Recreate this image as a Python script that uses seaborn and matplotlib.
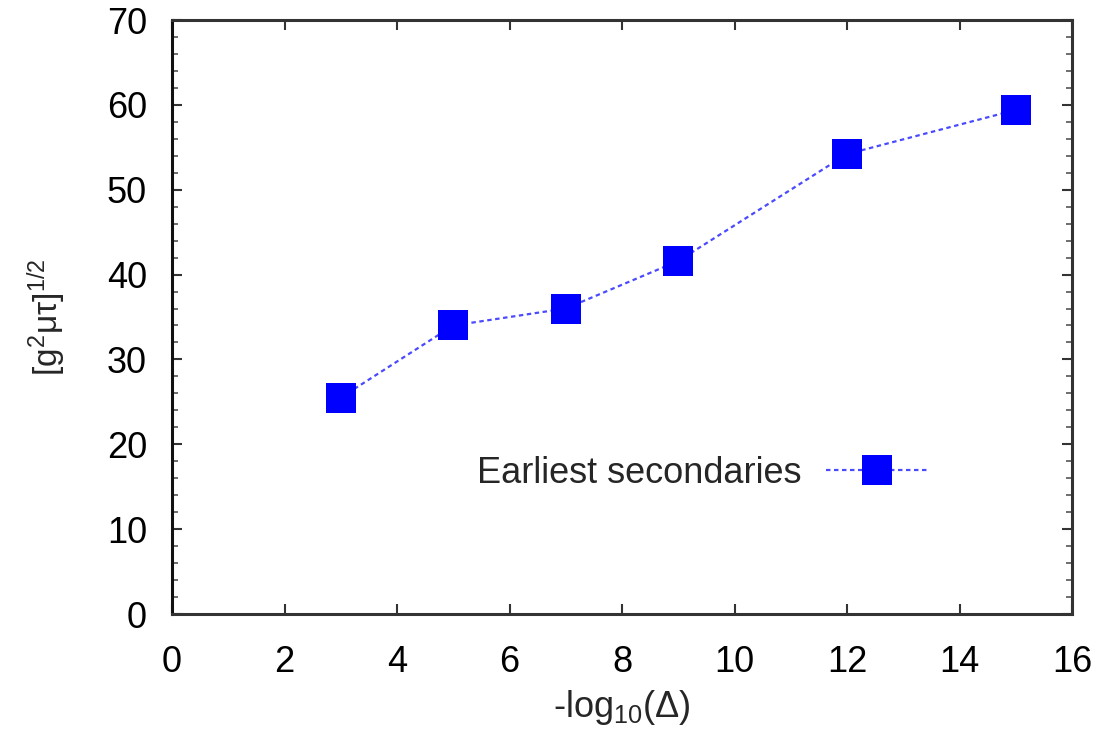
import matplotlib
matplotlib.use("Agg")
import matplotlib.pyplot as plt
import seaborn as sns
import pandas as pd
from matplotlib.ticker import MultipleLocator
from matplotlib.lines import Line2D

x_vals = [3, 5, 7, 9, 12, 15]
y_vals = [25.5, 34.0, 36.0, 41.6, 54.2, 59.4]
series_name = "Earliest secondaries"
x_ticks = [0, 2, 4, 6, 8, 10, 12, 14, 16]
y_ticks = [0, 10, 20, 30, 40, 50, 60, 70]

sns.set_style("ticks")
plt.rcParams['font.family'] = ['Liberation Sans', 'DejaVu Sans']
plt.rcParams['mathtext.fontset'] = 'custom'
plt.rcParams['mathtext.rm'] = 'Liberation Sans'
plt.rcParams['mathtext.it'] = 'Liberation Sans'

df = pd.DataFrame({"x": x_vals, "y": y_vals, "s": series_name})

fig = plt.figure(figsize=(11, 7.3), dpi=100)
ax = fig.add_axes([172/1100, 1 - 614/730, (1072-172)/1100, (614-20)/730])

line_color = "#4a4aff"
sns.lineplot(data=df, x="x", y="y", hue="s", palette=[line_color], marker="s",
             markersize=22, markeredgewidth=0,
             linewidth=1.6, ax=ax, legend=False)
line = ax.lines[0]
line.set_dashes((2, 1.6))
line.set_markerfacecolor("#0000ff")
line.set_markeredgecolor("#0000ff")

ax.set_xlim(0, 16)
ax.set_ylim(0, 70)
ax.set_xticks(x_ticks)
ax.set_yticks(y_ticks)
ax.yaxis.set_minor_locator(MultipleLocator(2))
ax.tick_params(axis='both', which='major', direction='in', length=7, width=1.5,
               labelsize=26, top=True, right=True, colors='#333333', labelcolor='black')
ax.tick_params(axis='y', which='major', pad=18)
ax.tick_params(axis='x', which='major', pad=22)
ax.tick_params(axis='y', which='minor', direction='in', length=4, width=1.2,
               right=True, left=True, colors='#555555')
for sp in ax.spines.values():
    sp.set_linewidth(2.2)
    sp.set_color('#333333')
ax.spines['left'].set_color('#111111')

ax.set_xlabel('-log$_{10}$(Δ)', fontsize=26, labelpad=6)
ax.set_ylabel('[g$^{2}$μτ]$^{1/2}$', fontsize=24, labelpad=28)

h = Line2D([], [], color=line_color, marker="s", markersize=22, linewidth=1.6,
           dashes=(2, 1.6), markeredgewidth=0, markerfacecolor="#0000ff")
leg = ax.legend([h], [series_name], loc='center', bbox_to_anchor=(0.589, 16.6/70),
                frameon=False, markerfirst=False, fontsize=26, handlelength=2.8,
                handletextpad=0.7)

fig.savefig("out.png", dpi=100)
